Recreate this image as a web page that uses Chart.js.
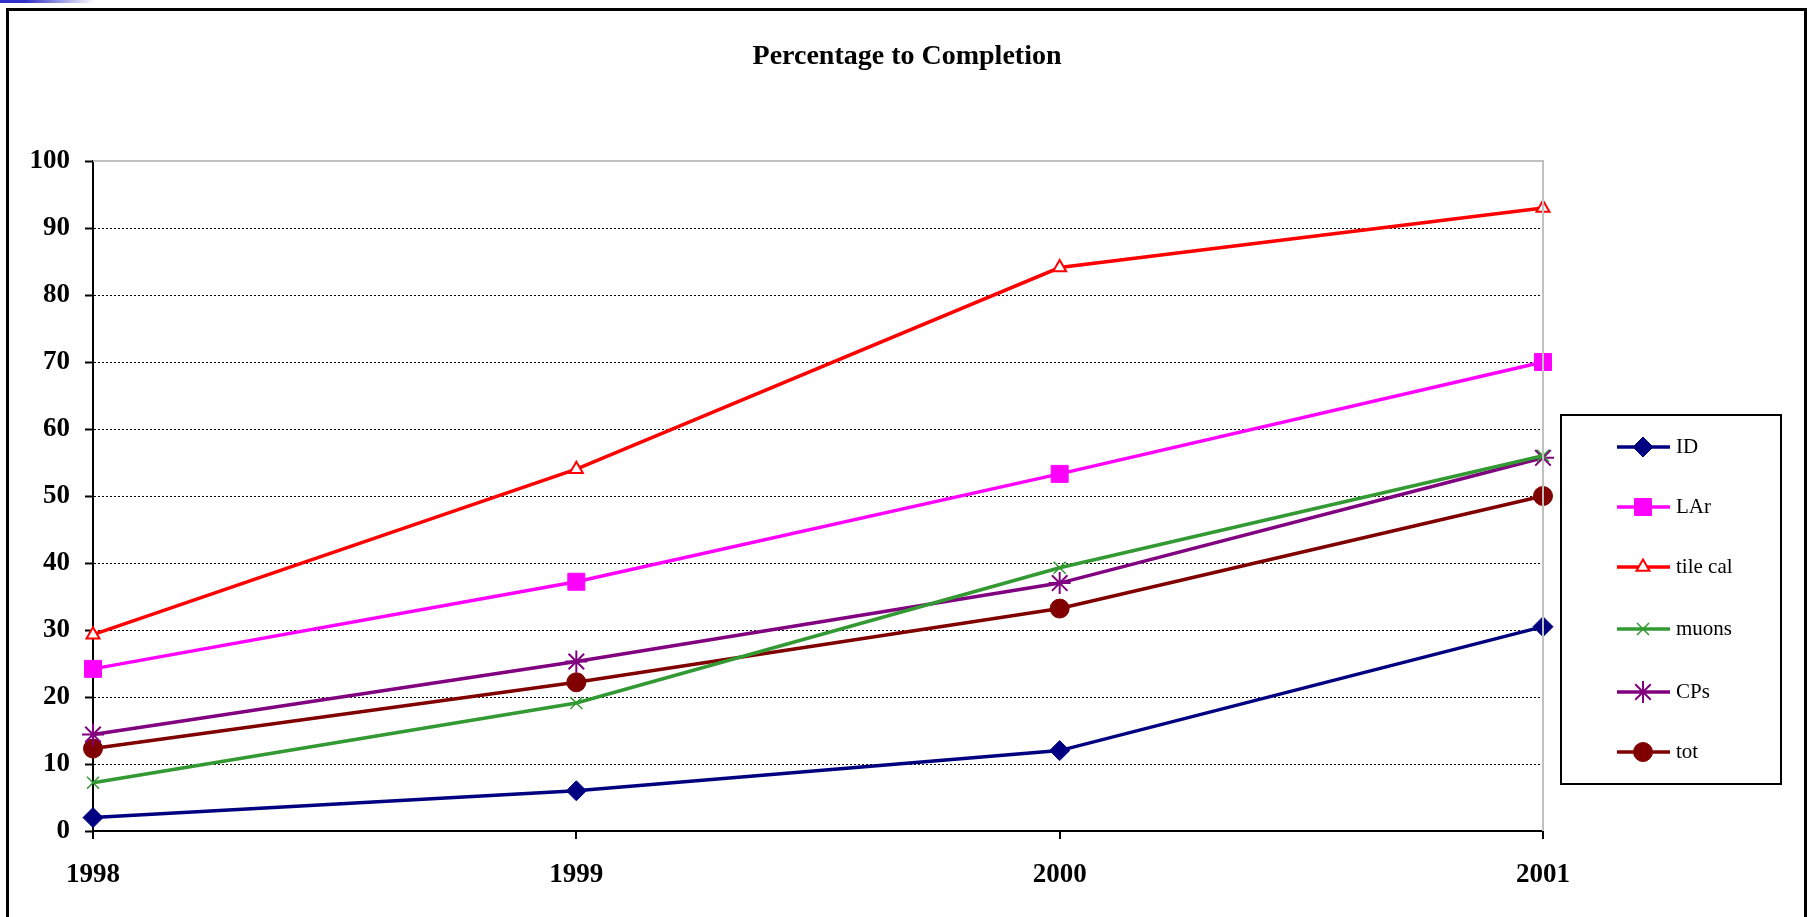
<!DOCTYPE html>
<html>
<head>
<meta charset="utf-8">
<script src="https://cdn.jsdelivr.net/npm/chart.js"></script>
<style>
  body { margin: 0; background: #fff; overflow: hidden; }
  #strip { position: absolute; left: 0; top: 0; width: 100px; height: 3px;
           background: linear-gradient(to right, #3030c8 0, #3030c8 25px, #ffffff 95px); }
  #frame { position: absolute; left: 6px; top: 8px; width: 1801px; height: 940px;
           border: 3px solid #000; box-sizing: border-box; }
  #c { position: absolute; left: 0; top: 0; }
</style>
</head>
<body>
<div id="strip"></div>
<div id="frame"></div>
<canvas id="c" width="1814" height="917"></canvas>
<script>
const years = ['1998', '1999', '2000', '2001'];
const idVals = [2, 6, 12, 30.5];
const larVals = [24.2, 37.2, 53.3, 70];
const tileVals = [29.3, 54, 84.1, 93];
const muonVals = [7.2, 19.1, 39.3, 56];
const cpVals = [14.4, 25.3, 37, 55.7];
const totVals = [12.3, 22.2, 33.2, 50];
const yTicks = [0, 10, 20, 30, 40, 50, 60, 70, 80, 90, 100];

const serif = "'Liberation Serif', 'Times New Roman', serif";

function series(label, data, color, style, radius, fill, bw) {
    return {
        label: label,
        data: data,
        borderColor: color,
        backgroundColor: color,
        borderWidth: 3.5,
        tension: 0,
        pointStyle: style,
        pointRadius: radius,
        pointHoverRadius: radius,
        pointBackgroundColor: fill,
        pointBorderColor: color,
        pointBorderWidth: bw
    };
}

const datasets = [
    series('ID', idVals, '#000080', 'rectRot', 10, '#000080', 1),
    series('LAr', larVals, '#ff00ff', 'rect', 12, '#ff00ff', 1),
    series('tile cal', tileVals, '#ff0000', 'triangle', 7.5, '#ffffff', 2),
    series('muons', muonVals, '#339933', 'crossRot', 8.5, '#339933', 1.5),
    series('CPs', cpVals, '#800080', 'star', 11, '#800080', 2),
    series('tot', totVals, '#800000', 'circle', 9.5, '#800000', 1)
];

const legendBox = {
    id: 'legendBox',
    afterDraw(chart) {
        const ctx = chart.ctx;
        const area = chart.chartArea;
        ctx.save();
        // grey plot border on top and right
        ctx.strokeStyle = '#c0c0c0';
        ctx.lineWidth = 2;
        ctx.beginPath();
        ctx.moveTo(area.left, area.top);
        ctx.lineTo(area.right, area.top);
        ctx.lineTo(area.right, area.bottom);
        ctx.stroke();

        ctx.strokeStyle = '#000';
        ctx.lineWidth = 2;
        ctx.strokeRect(1561, 415, 220, 369);
        const rowY = [447, 507, 567, 629, 692, 752];
        chart.data.datasets.forEach((ds, i) => {
            const y = rowY[i];
            ctx.strokeStyle = ds.borderColor;
            ctx.lineWidth = 3.5;
            ctx.beginPath();
            ctx.moveTo(1617, y);
            ctx.lineTo(1670, y);
            ctx.stroke();
            ctx.fillStyle = ds.pointBackgroundColor;
            ctx.strokeStyle = ds.pointBorderColor;
            ctx.lineWidth = ds.pointBorderWidth;
            Chart.helpers.drawPoint(ctx, {
                pointStyle: ds.pointStyle,
                radius: ds.pointRadius,
                rotation: 0,
                borderWidth: ds.pointBorderWidth
            }, 1643, y);
            ctx.fillStyle = '#000';
            ctx.font = '21px ' + serif;
            ctx.textBaseline = 'middle';
            ctx.textAlign = 'left';
            ctx.fillText(ds.label, 1676, y);
        });
        ctx.restore();
    }
};

new Chart(document.getElementById('c'), {
    type: 'line',
    data: { labels: years, datasets: datasets },
    options: {
        responsive: false,
        animation: false,
        devicePixelRatio: 1,
        layout: { padding: 0 },
        plugins: {
            legend: { display: false },
            tooltip: { enabled: false },
            title: {
                display: true,
                text: 'Percentage to Completion',
                color: '#000',
                font: { family: serif, size: 28, weight: 'bold' },
                padding: { top: 40, bottom: 87.4 }
            }
        },
        scales: {
            x: {
                offset: false,
                grid: {
                    drawOnChartArea: false,
                    drawTicks: true,
                    tickLength: 8,
                    tickColor: '#000',
                    lineWidth: 2
                },
                border: { color: '#000', width: 2 },
                ticks: {
                    color: '#000',
                    padding: 20,
                    maxRotation: 0,
                    font: { family: serif, size: 27, weight: 'bold' }
                },
                afterFit(scale) { scale.height = 86; }
            },
            y: {
                min: 0,
                max: 100,
                afterBuildTicks(scale) { scale.ticks = yTicks.map(v => ({ value: v })); },
                grid: {
                    color: (c) => (c.tick && (c.tick.value === 0 || c.tick.value === 100)) ? 'rgba(0,0,0,0)' : '#000',
                    lineWidth: 1,
                    tickLength: 8,
                    tickColor: '#000',
                    tickWidth: 2
                },
                border: { color: '#000', width: 2, dash: [2, 2] },
                ticks: {
                    color: '#000',
                    padding: 15,
                    font: { family: serif, size: 27, weight: 'bold' }
                },
                afterFit(scale) { scale.width = 93; }
            },
            yRight: {
                position: 'right',
                display: true,
                grid: { display: false },
                border: { display: false },
                ticks: { display: false },
                afterFit(scale) { scale.width = 271; }
            }
        }
    },
    plugins: [legendBox]
});
</script>
</body>
</html>
